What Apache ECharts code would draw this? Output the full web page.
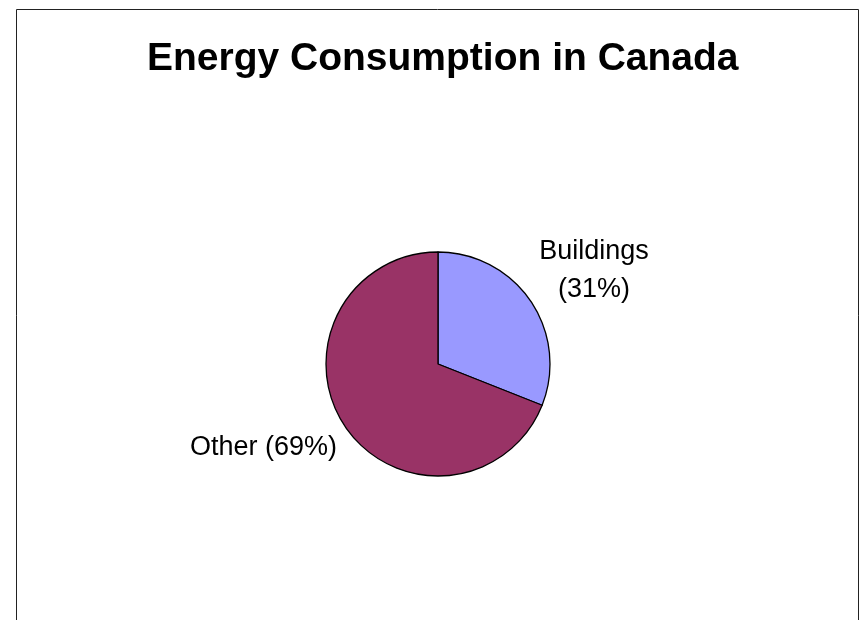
<!DOCTYPE html>
<html>
<head>
<meta charset="utf-8">
<script src="https://cdn.jsdelivr.net/npm/echarts@6/dist/echarts.min.js"></script>
<style>
  html, body { margin: 0; padding: 0; background: #ffffff; }
  #chart { width: 865px; height: 620px; }
</style>
</head>
<body>
<div id="chart"></div>
<script>
// Share of Canadian energy use by sector
const categories = ['Buildings', 'Other'];
const shares = [31, 69];
const sliceColors = ['#9999FF', '#993366'];

const chart = echarts.init(document.getElementById('chart'), null, { renderer: 'canvas' });

const data = categories.map((name, i) => ({
  name: name,
  value: shares[i],
  itemStyle: { color: sliceColors[i] }
}));

// small nudges for the outside labels (first slice label is centred on two lines)
const labelNudge = [
  { align: 'center', dx: 55, dy: -28 },
  { dx: 0, dy: 18 }
];

chart.setOption({
  animation: false,
  backgroundColor: '#ffffff',
  title: {
    text: 'Energy Consumption in Canada',
    left: 142,
    top: 35,
    textStyle: {
      fontFamily: 'Liberation Sans, Arial, sans-serif',
      fontWeight: 'bold',
      fontSize: 39,
      color: '#000000'
    }
  },
  graphic: [{
    type: 'rect',
    shape: { x: 16.5, y: 9.5, width: 842, height: 700 },
    style: { fill: 'none', stroke: '#222222', lineWidth: 1 },
    silent: true,
    z: 100
  }],
  series: [{
    type: 'pie',
    center: [438, 364],
    radius: 112,
    startAngle: 90,
    clockwise: true,
    data: data,
    itemStyle: { borderColor: '#000000', borderWidth: 1.3 },
    label: {
      show: true,
      position: 'outside',
      fontFamily: 'Liberation Sans, Arial, sans-serif',
      fontSize: 27,
      color: '#000000',
      lineHeight: 38,
      formatter: p => p.name === 'Buildings'
        ? p.name + '\n(' + p.value + '%)'
        : p.name + ' (' + p.value + '%)'
    },
    labelLine: { show: false, length: 4, length2: 0 },
    labelLayout: p => labelNudge[p.dataIndex],
    emphasis: { disabled: true }
  }]
});
</script>
</body>
</html>
